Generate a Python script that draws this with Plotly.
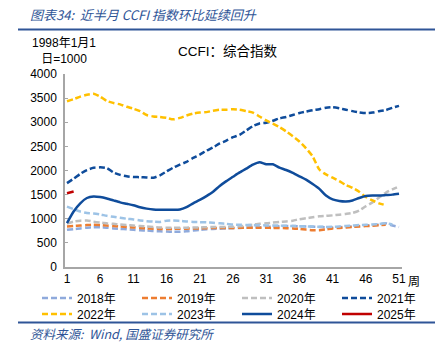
import plotly.graph_objects as go

weeks = list(range(1, 52))

y2018 = [770, 785, 800, 815, 825, 825, 815, 800, 790, 780, 770, 760, 755, 745, 740, 735, 730, 730, 740, 755,
         770, 780, 790, 795, 800, 805, 810, 815, 820, 825, 830, 840, 845, 850, 850, 845, 840, 835, 830, 825,
         820, 825, 830, 840, 850, 860, 870, 880, 905, 860, 830]
y2019 = [840, 850, 860, 870, 875, 870, 860, 850, 840, 830, 820, 810, 800, 795, 790, 790, 790, 792, 795, 798,
         800, 805, 808, 810, 810, 810, 812, 815, 815, 815, 812, 810, 808, 805, 800, 790, 775, 762, 762, 780,
         800, 810, 820, 830, 840, 848, 855, 865, 875]
y2020 = [900, 940, 960, 965, 940, 920, 905, 895, 880, 870, 860, 850, 840, 830, 820, 815, 815, 815, 815, 820,
         820, 825, 828, 830, 830, 835, 845, 860, 880, 895, 905, 920, 935, 945, 960, 990, 1010, 1030, 1050, 1060,
         1070, 1085, 1100, 1120, 1170, 1260, 1340, 1440, 1540, 1610, 1670]
y2021 = [1739, 1830, 1930, 2010, 2055, 2065, 2050, 1960, 1910, 1880, 1865, 1862, 1855, 1850, 1900, 1980, 2060, 2120, 2180, 2260,
         2330, 2410, 2480, 2560, 2620, 2690, 2740, 2830, 2920, 2975, 2990, 3030, 3080, 3110, 3150, 3190, 3220, 3250, 3270, 3300,
         3310, 3290, 3260, 3230, 3205, 3190, 3200, 3230, 3250, 3300, 3340]
y2022 = [3436, 3480, 3530, 3570, 3590, 3530, 3440, 3400, 3370, 3320, 3280, 3230, 3150, 3120, 3110, 3090, 3060, 3090, 3140, 3180,
         3200, 3210, 3240, 3260, 3260, 3270, 3260, 3230, 3200, 3120, 3040, 2970, 2900, 2810, 2710, 2600, 2460, 2290, 2020, 1920,
         1850, 1780, 1700, 1640, 1560, 1450, 1380, 1320, 1280]
y2023 = [1250, 1200, 1150, 1120, 1110, 1090, 1060, 1040, 1020, 1000, 985, 965, 950, 940, 935, 960, 965, 955, 945, 935,
         930, 925, 915, 905, 895, 880, 875, 870, 868, 865, 862, 860, 858, 855, 850, 845, 840, 838, 835, 830,
         832, 840, 850, 860, 870, 875, 880, 890, 905, 880]
y2024 = [911, 1150, 1320, 1430, 1463, 1450, 1420, 1380, 1340, 1310, 1280, 1240, 1210, 1190, 1185, 1185, 1185, 1190, 1240, 1320,
         1390, 1470, 1560, 1680, 1780, 1870, 1960, 2040, 2120, 2170, 2130, 2130, 2060, 2010, 1950, 1880, 1810, 1720, 1620, 1480,
         1400, 1370, 1360, 1380, 1430, 1470, 1480, 1480, 1490, 1500, 1519]
y2025 = [1530, 1565]

x_ticks = [1, 6, 11, 16, 21, 26, 31, 36, 41, 46, 51]
y_ticks = [0, 500, 1000, 1500, 2000, 2500, 3000, 3500, 4000]

series = [
    ("2018年", y2018, "#8FAADC", "dash"),
    ("2019年", y2019, "#ED7D31", "dash"),
    ("2020年", y2020, "#BFBFBF", "dash"),
    ("2021年", y2021, "#0F4C9B", "dash"),
    ("2022年", y2022, "#FFC000", "dash"),
    ("2023年", y2023, "#9DC3E6", "dash"),
    ("2024年", y2024, "#0F4C9B", "solid"),
    ("2025年", y2025, "#C00000", "solid"),
]

FONT = "Liberation Sans, Arial, Noto Sans CJK SC"
CJK = "Noto Sans CJK SC, Liberation Sans"

L, R, T, B = 65, 33, 74, 87
W, H = 435, 354
pw, ph = W - L - R, H - T - B

def px(xp):
    return (xp - L) / pw

def py(yp):
    return (H - B - yp) / ph

fig = go.Figure()
legends = {}
for i, (name, ys, color, dash) in enumerate(series):
    lg = "legend" if i == 0 else f"legend{i + 1}"
    fig.add_trace(go.Scatter(
        x=weeks[:len(ys)], y=ys, name=name, mode="lines", legend=lg,
        line=dict(color=color, width=2.5,
                  dash="6px,3px" if dash == "dash" else "solid", shape="spline", smoothing=0.6),
    ))
    col, row = i % 4, i // 4
    legends[lg] = dict(orientation="h", xanchor="left", yanchor="middle",
                       x=px(37 + 100 * col), y=py(298 + 16 * row),
                       font=dict(size=12, family=FONT), itemwidth=30,
                       bgcolor="rgba(0,0,0,0)")

fig.update_layout(
    width=W, height=H,
    margin=dict(l=L, r=R, t=T, b=B, autoexpand=False),
    paper_bgcolor="white", plot_bgcolor="white",
    font=dict(family=FONT, size=12, color="#000000"),
    showlegend=True,
    xaxis=dict(range=[0.7, 51.45], tickmode="array", tickvals=x_ticks,
               ticktext=[str(v) for v in x_ticks], showgrid=False, zeroline=False,
               showline=True, linecolor="#A6A6A6", linewidth=1.5, ticks="",
               tickfont=dict(size=12)),
    yaxis=dict(range=[0, 4000], tickmode="array", tickvals=y_ticks,
               ticktext=[str(v) for v in y_ticks], showgrid=False, zeroline=False,
               showline=True, linecolor="#A6A6A6", linewidth=1.5, ticks="inside",
               ticklen=3, tickcolor="#A6A6A6", tickfont=dict(size=12),
               ticklabelstandoff=4),
    **legends,
)

annotations = [
    dict(text="<i>图表34:  近半月 CCFI 指数环比延续回升</i>", x=px(28), y=py(14), xanchor="left", yanchor="middle",
         font=dict(size=13, color="#2F5597", family=CJK)),
    dict(text="1998年1月1<br>日=1000", x=px(64), y=py(50.5), xanchor="center", yanchor="middle",
         font=dict(size=12, family=FONT), align="center"),
    dict(text="CCFI：综合指数", x=px(176), y=py(51), xanchor="left", yanchor="middle",
         font=dict(size=13.5, family=FONT)),
    dict(text="周", x=px(406), y=py(280), xanchor="left", yanchor="middle",
         font=dict(size=12, family=CJK)),
    dict(text="<i>资料来源:  Wind, 国盛证券研究所</i>", x=px(28), y=py(333), xanchor="left", yanchor="middle",
         font=dict(size=12.5, color="#2F5597", family=CJK)),
]
for a in annotations:
    a.update(xref="paper", yref="paper", showarrow=False)
    fig.add_annotation(**a)

fig.add_shape(type="line", xref="paper", yref="paper", x0=px(18), x1=px(435), y0=py(29.5), y1=py(29.5),
              line=dict(color="#2F5597", width=2))
fig.add_shape(type="line", xref="paper", yref="paper", x0=px(18), x1=px(435), y0=py(322.5), y1=py(322.5),
              line=dict(color="#2F5597", width=2))

fig.write_html("out.html")
